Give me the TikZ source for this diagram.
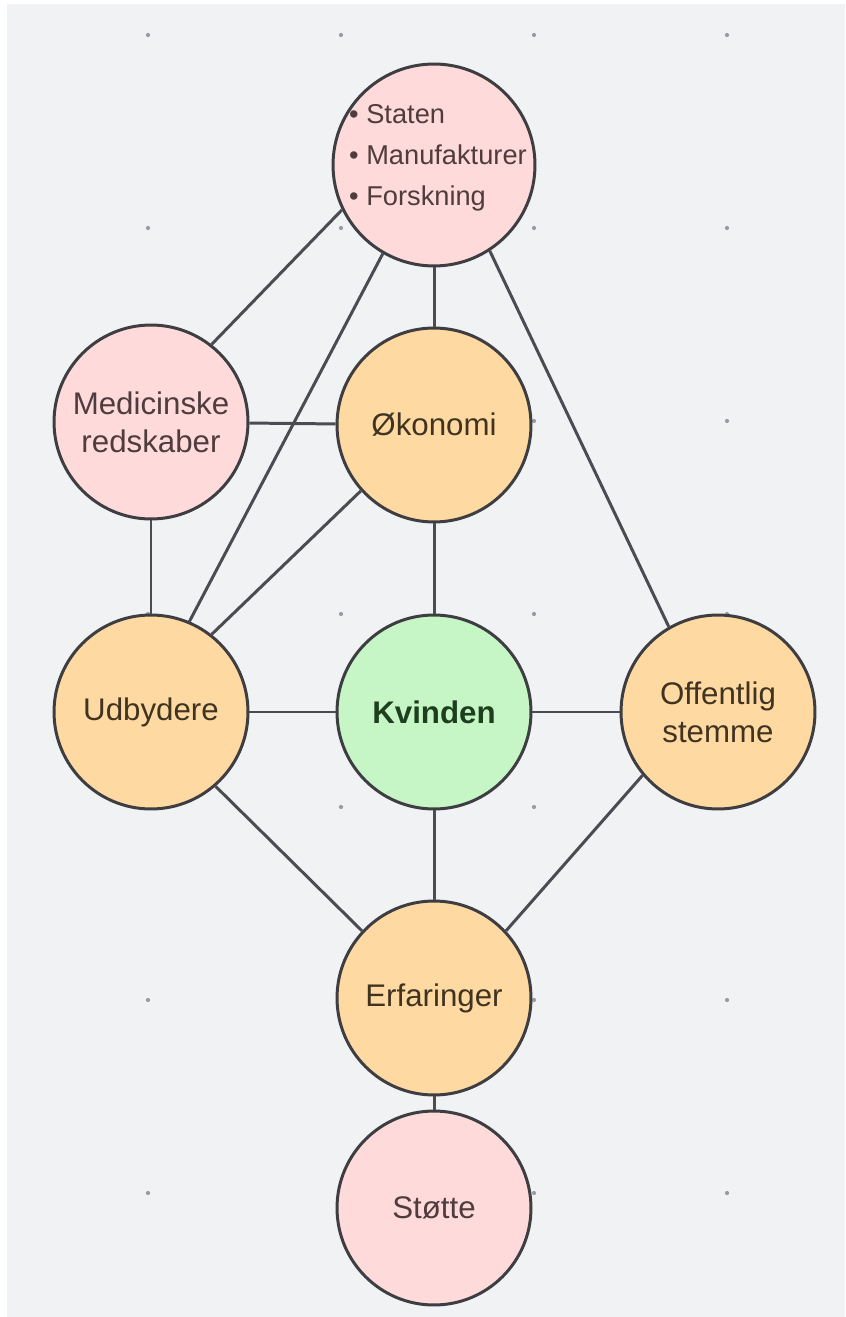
\documentclass[tikz,border=0pt]{standalone}
\usepackage{fontspec}
\setmainfont{Liberation Sans}
\usetikzlibrary{positioning}

\definecolor{bggray}{HTML}{F1F2F4}
\definecolor{dotgray}{HTML}{9A9CA3}
\definecolor{rimgray}{HTML}{3E3E42}
\definecolor{linegray}{HTML}{4A4C52}
\definecolor{pinkfill}{HTML}{FFDADA}
\definecolor{orangefill}{HTML}{FFD9A2}
\definecolor{greenfill}{HTML}{C6F5C6}
\definecolor{pinktext}{HTML}{4F3C3C}
\definecolor{orangetext}{HTML}{403421}
\definecolor{greentext}{HTML}{1E3F1E}

\tikzset{
  bubble/.style={circle, draw=rimgray, line width=1.7pt, minimum size=3.88cm,
    inner sep=0pt, align=center, font=\fontsize{17.8}{21.5}\selectfont},
  pinkbubble/.style={bubble, fill=pinkfill, text=pinktext},
  orangebubble/.style={bubble, fill=orangefill, text=orangetext},
  greenbubble/.style={bubble, fill=greenfill, text=greentext, font=\fontsize{17.8}{21.5}\selectfont\bfseries},
  link/.style={draw=linegray, line width=1.7pt}
}

\begin{document}
\begin{tikzpicture}[x=0.02cm, y=-0.02cm]
    \useasboundingbox (0,0) rectangle (845,1317);
    \fill[white] (0,0) rectangle (845,1317);
    \fill[bggray] (7,4) rectangle (845,1317);

    % grid dots
    \foreach \gx in {148,341,534,727}
        \foreach \gy in {35,228,421,614,807,1000,1193}
            \fill[dotgray] (\gx,\gy) circle (1.2pt);

    % bubbles
    \node[pinkbubble, minimum size=4.04cm] (actors) at (434,165) {};
    \node[align=left, text=pinktext, font=\fontsize{15.5}{23.2}\selectfont] (actorlist) at (438,158)
        {\textbullet\ Staten\\\textbullet\ Manufakturer\\\textbullet\ Forskning};
    \node[pinkbubble] (tools) at (151,422) {Medicinske\\redskaber};
    \node[orangebubble] (economy) at (434,425) {Økonomi};
    \node[orangebubble] (providers) at (151,712) {Udbydere};
    \node[greenbubble] (woman) at (434,712) {Kvinden};
    \node[orangebubble] (voice) at (718,712) {Offentlig\\stemme};
    \node[orangebubble] (experience) at (434,998) {Erfaringer};
    \node[pinkbubble] (support) at (434,1208) {Støtte};

    % links
    \draw[link] (actors.206) -- (tools.52);
    \draw[link] (actors.240) -- (providers.67);
    \draw[link] (actors) -- (economy);
    \draw[link] (actors.303) -- (voice.120);
    \draw[link] (tools) -- (economy);
    \draw[link] (tools) -- (providers);
    \draw[link] (economy.222) -- (providers.52);
    \draw[link] (economy) -- (woman);
    \draw[link] (providers) -- (woman);
    \draw[link] (woman) -- (voice);
    \draw[link] (woman) -- (experience);
    \draw[link] (providers.311) -- (experience.137);
    \draw[link] (voice.220) -- (experience.43);
    \draw[link] (experience) -- (support);
\end{tikzpicture}
\end{document}
